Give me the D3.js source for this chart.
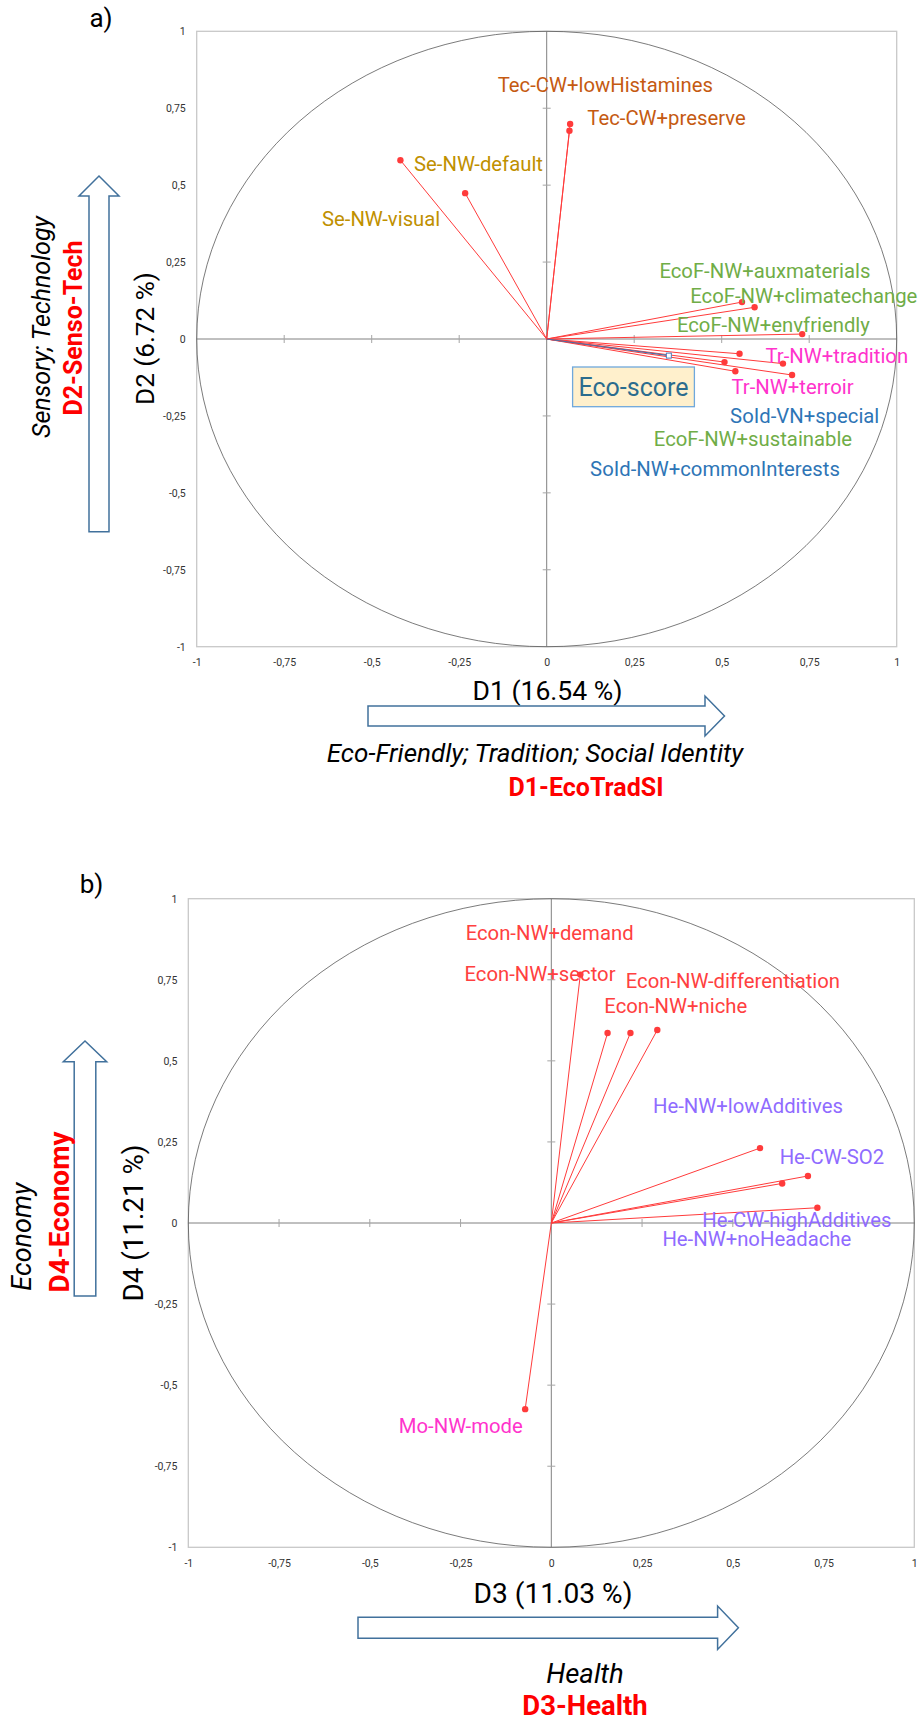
<!DOCTYPE html>
<html>
<head>
<meta charset="utf-8">
<script src="https://cdn.jsdelivr.net/npm/d3@7"></script>
<style>
body { margin: 0; background: #fff; }
svg text { font-family: Roboto, "Noto Sans", sans-serif; }
</style>
</head>
<body>
<script>
var ticks = [-1, -0.75, -0.5, -0.25, 0, 0.25, 0.5, 0.75, 1];

// panel a) : D1 x D2
var varsA = ["Tec-CW+lowHistamines", "Tec-CW+preserve", "Se-NW-default", "Se-NW-visual",
    "EcoF-NW+auxmaterials", "EcoF-NW+climatechange", "EcoF-NW+envfriendly", "Tr-NW+tradition",
    "Tr-NW+terroir", "SoId-VN+special", "EcoF-NW+sustainable", "SoId-NW+commonInterests"];
var d1 = [0.067, 0.065, -0.418, -0.233, 0.558, 0.594, 0.730, 0.675, 0.701, 0.551, 0.508, 0.539];
var d2 = [0.699, 0.677, 0.581, 0.474, 0.120, 0.103, 0.016, -0.080, -0.117, -0.048, -0.075, -0.105];
var groupA = ["Tec", "Tec", "Se", "Se", "EcoF", "EcoF", "EcoF", "Tr", "Tr", "SoId", "EcoF", "SoId"];
var labelD1 = [-0.14, 0.116, -0.379, -0.642, 0.322, 0.410, 0.372, 0.625, 0.528, 0.524, 0.306, 0.124];
var labelD2 = [0.828, 0.718, 0.571, 0.391, 0.222, 0.141, 0.047, -0.054, -0.154, -0.249, -0.325, -0.421];
var supName = "Eco-score";
var supD1 = 0.349;
var supD2 = -0.054;

// panel b) : D3 x D4
var varsB = ["Econ-NW+demand", "Econ-NW+sector", "Econ-NW-differentiation", "Econ-NW+niche",
    "He-NW+lowAdditives", "He-CW-SO2", "He-CW-highAdditives", "He-NW+noHeadache", "Mo-NW-mode"];
var d3v = [0.080, 0.155, 0.292, 0.218, 0.575, 0.707, 0.733, 0.636, -0.072];
var d4v = [0.766, 0.586, 0.595, 0.586, 0.231, 0.145, 0.047, 0.122, -0.574];
var groupB = ["Econ", "Econ", "Econ", "Econ", "He", "He", "He", "He", "Mo"];
var labelD3 = [-0.236, -0.239, 0.205, 0.146, 0.280, 0.629, 0.416, 0.306, -0.42];
var labelD4 = [0.895, 0.768, 0.747, 0.669, 0.361, 0.203, 0.011, -0.047, -0.626];

var groupColor = {
    Tec: "#c55a11", Se: "#bf9000", EcoF: "#70ad47", Tr: "#ff33cc", SoId: "#2e75b6",
    Econ: "#ff4040", He: "#8f6bff", Mo: "#ff33cc"
};

var svg = d3.select("body").append("svg")
    .attr("width", 921)
    .attr("height", 1722);

function fmt(d) {
    return String(d).replace(".", ",");
}

function drawPanel(p) {
    var x = d3.scaleLinear().domain([-1, 1]).range([p.left, p.right]);
    var y = d3.scaleLinear().domain([-1, 1]).range([p.bottom, p.top]);
    var g = svg.append("g");

    g.append("rect")
        .attr("x", p.left).attr("y", p.top)
        .attr("width", p.right - p.left).attr("height", p.bottom - p.top)
        .attr("fill", "none")
        .attr("stroke", "#c8c8c8")
        .attr("stroke-width", 1.3);

    // tick labels on the frame
    var xa = g.append("g")
        .attr("transform", "translate(0," + p.bottom + ")")
        .call(d3.axisBottom(x).tickValues(ticks).tickSize(0).tickPadding(12).tickFormat(fmt));
    var ya = g.append("g")
        .attr("transform", "translate(" + p.left + ",0)")
        .call(d3.axisLeft(y).tickValues(ticks).tickSize(0).tickPadding(11).tickFormat(fmt));
    [xa, ya].forEach(function(a) {
        a.select(".domain").remove();
        a.attr("font-family", null).attr("font-size", 10.5);
        a.selectAll("text").attr("fill", "#333");
    });

    // axes through the origin
    g.append("line")
        .attr("x1", x(0)).attr("x2", x(0)).attr("y1", p.top).attr("y2", p.bottom)
        .attr("stroke", "#808080");
    g.append("line")
        .attr("x1", p.left).attr("x2", p.right).attr("y1", y(0)).attr("y2", y(0))
        .attr("stroke", "#808080");
    var inner = ticks.filter(function(t) { return t != 0 && Math.abs(t) < 1; });
    g.selectAll(".vt").data(inner).enter().append("line")
        .attr("x1", x(0) - 4).attr("x2", x(0) + 4)
        .attr("y1", function(d) { return y(d); })
        .attr("y2", function(d) { return y(d); })
        .attr("stroke", "#a6a6a6");
    g.selectAll(".ht").data(inner).enter().append("line")
        .attr("y1", y(0) - 4).attr("y2", y(0) + 4)
        .attr("x1", function(d) { return x(d); })
        .attr("x2", function(d) { return x(d); })
        .attr("stroke", "#a6a6a6");

    // correlation circle
    g.append("ellipse")
        .attr("cx", x(0)).attr("cy", y(0))
        .attr("rx", x(1) - x(0)).attr("ry", y(-1) - y(0))
        .attr("fill", "none")
        .attr("stroke", "#595959")
        .attr("stroke-width", 0.8);

    var idx = d3.range(p.names.length);
    g.selectAll(".vec").data(idx).enter().append("line")
        .attr("x1", x(0)).attr("y1", y(0))
        .attr("x2", function(i) { return x(p.xs[i]); })
        .attr("y2", function(i) { return y(p.ys[i]); })
        .attr("stroke", "#ff3b3b")
        .attr("stroke-width", 1);
    g.selectAll(".pt").data(idx).enter().append("circle")
        .attr("cx", function(i) { return x(p.xs[i]); })
        .attr("cy", function(i) { return y(p.ys[i]); })
        .attr("r", 3.2)
        .attr("fill", "#ff3b3b");
    g.selectAll(".lab").data(idx).enter().append("text")
        .attr("x", function(i) { return x(p.lx[i]); })
        .attr("y", function(i) { return y(p.ly[i]); })
        .attr("dy", "0.36em")
        .attr("font-size", 20.3)
        .attr("fill", function(i) { return groupColor[p.groups[i]]; })
        .text(function(i) { return p.names[i]; });

    return { x: x, y: y, g: g };
}

function arrowH(x0, xb, tip, cy, h, H) {
    svg.append("path")
        .attr("d", "M" + x0 + "," + (cy - h) + "H" + xb + "V" + (cy - H) + "L" + tip + "," + cy +
            "L" + xb + "," + (cy + H) + "V" + (cy + h) + "H" + x0 + "Z")
        .attr("fill", "#fff").attr("stroke", "#41719c").attr("stroke-width", 1.5);
}

function arrowV(cx, bottom, yb, tip, h, H) {
    svg.append("path")
        .attr("d", "M" + (cx - h) + "," + bottom + "V" + yb + "H" + (cx - H) + "L" + cx + "," + tip +
            "L" + (cx + H) + "," + yb + "H" + (cx + h) + "V" + bottom + "Z")
        .attr("fill", "#fff").attr("stroke", "#41719c").attr("stroke-width", 1.5);
}

function label(txt, x, y, size, opts) {
    opts = opts || {};
    var t = svg.append("text")
        .attr("transform", "translate(" + x + "," + y + ")" + (opts.rot ? " rotate(-90)" : ""))
        .attr("text-anchor", "middle")
        .attr("dy", "0.36em")
        .attr("font-size", size)
        .attr("fill", opts.fill || "#000")
        .text(txt);
    if (opts.italic) t.attr("font-style", "italic");
    if (opts.bold) t.attr("font-weight", "bold");
    if (opts.width) {
        // narrow axis titles: scale the size so the text keeps the reference width
        t.style("font-family", "'Liberation Sans Narrow', Roboto, sans-serif");
        var w = t.node().getComputedTextLength();
        if (w > 0) t.attr("font-size", size * opts.width / w);
    }
    return t;
}

// ---- panel a
var pa = drawPanel({
    left: 196.7, right: 896.7, top: 31.3, bottom: 646.7,
    names: varsA, xs: d1, ys: d2, groups: groupA, lx: labelD1, ly: labelD2
});

// supplementary variable
pa.g.append("line")
    .attr("x1", pa.x(0)).attr("y1", pa.y(0))
    .attr("x2", pa.x(supD1)).attr("y2", pa.y(supD2))
    .attr("stroke", "#4a6fa5").attr("stroke-width", 1.2);
pa.g.append("rect")
    .attr("x", pa.x(supD1) - 2.5).attr("y", pa.y(supD2) - 2.5)
    .attr("width", 5).attr("height", 5)
    .attr("fill", "#fff").attr("stroke", "#4a7ebb");
pa.g.append("rect")
    .attr("x", pa.x(0.074)).attr("y", pa.y(-0.091))
    .attr("width", pa.x(0.422) - pa.x(0.074)).attr("height", pa.y(-0.220) - pa.y(-0.091))
    .attr("fill", "#fff0cc").attr("stroke", "#6fa8dc").attr("stroke-width", 1.3);
pa.g.append("text")
    .attr("x", pa.x(0.248)).attr("y", pa.y(-0.155))
    .attr("dy", "0.36em")
    .attr("text-anchor", "middle")
    .attr("font-size", 25)
    .attr("fill", "#2b6c8e")
    .text(supName);

label("a)", 101, 18, 26);
label("D1 (16.54 %)", 547.5, 690, 27, { width: 150 });
arrowH(368, 705, 724.5, 716, 9.9, 20);
label("Eco-Friendly; Tradition; Social Identity", 535, 753, 26, { italic: true });
label("D1-EcoTradSI", 586, 787, 25, { bold: true, fill: "#ff0000" });
label("D2 (6.72 %)", 145, 338.5, 27, { rot: true, width: 133 });
arrowV(99, 531.7, 196, 176, 10, 20);
label("Sensory; Technology", 40.7, 327, 25, { rot: true, italic: true });
label("D2-Senso-Tech", 73, 328, 25, { rot: true, bold: true, fill: "#ff0000" });

// ---- panel b
drawPanel({
    left: 188.3, right: 914.3, top: 898.7, bottom: 1547.3,
    names: varsB, xs: d3v, ys: d4v, groups: groupB, lx: labelD3, ly: labelD4
});

label("b)", 91.5, 884, 26);
label("D3 (11.03 %)", 553, 1592.7, 28, { width: 159 });
arrowH(358, 717.6, 738.4, 1627.7, 10.5, 21.7);
label("Health", 585, 1672.7, 27.5, { italic: true });
label("D3-Health", 585, 1705.5, 27.5, { bold: true, fill: "#ff0000" });
label("D4 (11.21 %)", 133.3, 1223, 28, { rot: true, width: 157 });
arrowV(85, 1296, 1061.7, 1041, 10.8, 21.7);
label("Economy", 21.7, 1236.7, 27, { rot: true, italic: true });
label("D4-Economy", 59, 1212, 28, { rot: true, bold: true, fill: "#ff0000" });
</script>
</body>
</html>
